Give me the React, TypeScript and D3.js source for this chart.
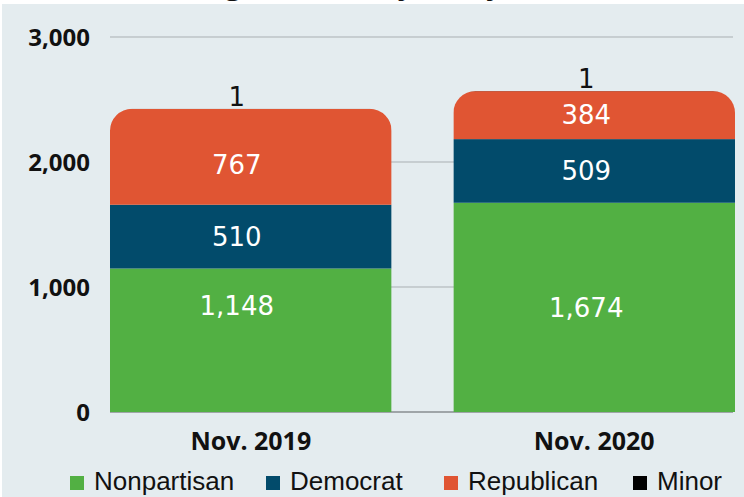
import React from "react";
import * as d3 from "d3";

const categories = ["Nov. 2019", "Nov. 2020"];
const seriesNames = ["Nonpartisan", "Democrat", "Republican", "Minor"];
const nonpartisan = [1148, 1674];
const democrat = [510, 509];
const republican = [767, 384];
const minor = [1, 1];
const yTicks = [0, 1000, 2000, 3000];

const colors = ["#52b043", "#024b6b", "#e05533", "#000000"];
// small visual nudges of the in-bar labels, copied from the reference layout
const labelNudge: Record<string, number> = { "0-0": -35, "0-2": 8 };
const labelShiftX = [-14, -8];

export default function App() {
  const W = 744, H = 497;
  const left = 110, right = 735, top = 37, bottom = 412;
  const rows = categories.map((c, i) => ({
    cat: c,
    Nonpartisan: nonpartisan[i],
    Democrat: democrat[i],
    Republican: republican[i],
    Minor: minor[i],
  }));
  const stack = d3.stack<any>().keys(seriesNames)(rows);
  const x = d3.scaleBand().domain(categories).range([left, right]).paddingInner(0.18).paddingOuter(0);
  const y = d3.scaleLinear().domain([0, 3000]).range([bottom, top]);
  const fmt = d3.format(",");
  const r = 22;

  const legendX = [70, 266, 444, 633];

  return (
    <svg width={W} height={H} style={{ position: "fixed", left: 0, top: 0 }}>
      <rect x={0} y={0} width={W} height={H} fill="#ffffff" />
      <text x={300} y={-6} textAnchor="middle" fontFamily="Open Sans" fontWeight={700} fontSize={30} fill="#111">
        Voter Registration by Party
      </text>
      <rect x={2} y={4} width={W - 2} height={H - 4} fill="#e4ecef" />
      <defs>
        {categories.map((c, i) => {
          const x0 = x(c)!;
          const w = x.bandwidth();
          const yt = y(stack[stack.length - 1][i][1]);
          const p = `M${x0},${bottom} V${yt + r} A${r},${r} 0 0 1 ${x0 + r},${yt} H${x0 + w - r} A${r},${r} 0 0 1 ${x0 + w},${yt + r} V${bottom} Z`;
          return (
            <clipPath id={`clip${i}`} key={c}>
              <path d={p} />
            </clipPath>
          );
        })}
      </defs>
      {yTicks.slice(1).map((t) => (
        <line key={t} x1={left} x2={733} y1={y(t)} y2={y(t)} stroke="#a9afb2" strokeWidth={1} />
      ))}
      <line x1={left} x2={733} y1={bottom} y2={bottom} stroke="#5a5f62" strokeWidth={1.2} />
      {yTicks.map((t) => (
        <text key={t} x={90} y={y(t)} dy="0.36em" textAnchor="end" fontFamily="Open Sans" fontWeight={700} fontSize={24} fill="#111">
          {fmt(t)}
        </text>
      ))}
      {categories.map((c, i) => (
        <g key={c} clipPath={`url(#clip${i})`}>
          {stack.map((s, k) => (
            <rect
              key={k}
              x={x(c)}
              width={x.bandwidth()}
              y={y(s[i][1])}
              height={Math.max(0, y(s[i][0]) - y(s[i][1]))}
              fill={colors[k]}
            />
          ))}
        </g>
      ))}
      {categories.map((c, i) =>
        stack.map((s, k) => {
          const cx = x(c)! + x.bandwidth() / 2 + labelShiftX[i];
          const v = s[i][1] - s[i][0];
          if (k === stack.length - 1) {
            return (
              <text key={`${i}-${k}`} x={cx} y={y(s[i][1]) - 3} textAnchor="middle" fontFamily="DejaVu Sans" fontSize={26} fill="#111">
                {fmt(v)}
              </text>
            );
          }
          const cy = (y(s[i][0]) + y(s[i][1])) / 2 + (labelNudge[`${i}-${k}`] || 0);
          return (
            <text key={`${i}-${k}`} x={cx} y={cy} dy="0.36em" textAnchor="middle" fontFamily="DejaVu Sans" fontSize={26} fill="#ffffff">
              {fmt(v)}
            </text>
          );
        })
      )}
      {categories.map((c) => (
        <text key={c} x={x(c)! + x.bandwidth() / 2} y={450} textAnchor="middle" fontFamily="Open Sans" fontWeight={700} fontSize={25} fill="#111">
          {c}
        </text>
      ))}
      {seriesNames.map((n, k) => (
        <g key={n}>
          <rect x={legendX[k]} y={476} width={14} height={14} fill={colors[k]} />
          <text x={legendX[k] + 24} y={490} fontFamily="Liberation Sans" fontSize={26} fill="#111">
            {n}
          </text>
        </g>
      ))}
    </svg>
  );
}
